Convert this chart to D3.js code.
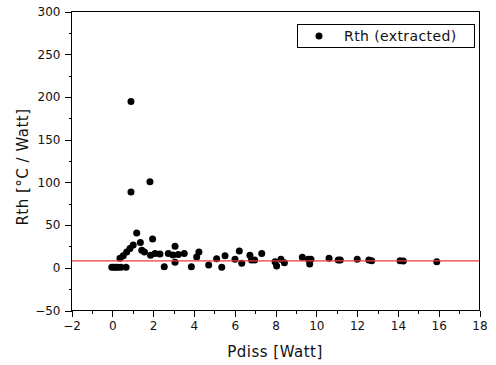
<!DOCTYPE html>
<html><head><meta charset="utf-8">
<script src="https://cdn.jsdelivr.net/npm/d3@7"></script>
<style>
html,body{margin:0;padding:0;background:#fff;}
svg{display:block;font-family:"DejaVu Sans",sans-serif;}
</style></head>
<body><svg id="c" width="496" height="365"></svg>
<script>
const pdiss = [0.0,0.1,0.2,0.3,0.45,0.7,0.4,0.56,0.73,0.89,1.05,0.94,0.94,1.87,1.22,1.4,2.0,1.47,1.6,1.9,2.12,2.36,2.57,2.77,3.0,3.1,3.26,3.1,3.55,3.9,4.16,4.27,4.75,5.14,5.55,5.39,6.04,6.25,6.37,6.77,6.85,7.0,7.35,8.0,8.08,8.29,8.46,9.34,9.63,9.7,9.76,10.65,11.1,11.2,12.03,12.6,12.74,14.13,14.29,15.93];
const rth   = [0,0,0,0,0,0,10.5,13.6,18,22,26,194,88,100,40,29,33,20,18,14,16,15.6,0.5,16,14.4,24.5,15,6,16,0.7,12,18,2.7,10,13.6,0,9.5,19,4.7,14,8.5,8.5,16,6.6,1.5,9.4,5.4,11.7,9.4,3.9,9.4,10.5,8.5,8.5,9.4,8.5,7.7,7.7,7.4,6.6];
const refLine = 7.5;
const xTicks = [-2,0,2,4,6,8,10,12,14,16,18];
const yTicks = [-50,0,50,100,150,200,250,300];
const legendLabel = "Rth (extracted)";
const xTitle = "Pdiss [Watt]";
const yTitle = "Rth [°C / Watt]";

const L=71,R=479,T=11,B=310;
const svg=d3.select("#c");
const x=d3.scaleLinear().domain([-2,18]).range([L,R]);
const y=d3.scaleLinear().domain([-50,300]).range([B,T]);

// frame
svg.append("rect").attr("x",L+0.5).attr("y",T+0.5).attr("width",R-L).attr("height",B-T)
  .attr("fill","none").attr("stroke","#000").attr("stroke-width",1).attr("shape-rendering","crispEdges");

// axes
const xMinor=d3.range(-1,18,2);
const yMinor=d3.range(-25,300,50);
const gx=svg.append("g").attr("transform",`translate(0.5,${B+0.5})`);
gx.call(d3.axisBottom(x).tickValues(xTicks).tickSize(6).tickPadding(5).tickFormat(d3.format("d")));
gx.append("g").call(d3.axisBottom(x).tickValues(xMinor).tickSize(3).tickFormat(""));
const gy=svg.append("g").attr("transform",`translate(${L+0.5},0.5)`);
gy.call(d3.axisLeft(y).tickValues(yTicks).tickSize(7).tickPadding(4).tickFormat(d3.format("d")));
gy.append("g").call(d3.axisLeft(y).tickValues(yMinor).tickSize(3).tickFormat(""));
svg.selectAll(".domain").remove();
svg.selectAll(".tick line").attr("stroke","#000").attr("shape-rendering","crispEdges");
svg.selectAll(".tick text").attr("font-size","12px").attr("font-family","DejaVu Sans").attr("fill","#111");

// points
svg.append("g").selectAll("circle").data(pdiss.map((d,i)=>[d,rth[i]])).join("circle")
  .attr("cx",d=>x(d[0])).attr("cy",d=>y(d[1])).attr("r",3.5).attr("fill","#000");

// reference line (on top)
const ry=y(refLine);
svg.append("line").attr("x1",L+1).attr("x2",R).attr("y1",ry).attr("y2",ry)
  .attr("stroke","#ec3a3c").attr("stroke-width",1.3);

// titles
svg.append("text").attr("x",(L+R)/2).attr("y",357).attr("text-anchor","middle")
  .attr("font-size","15px").attr("letter-spacing","0.5px").attr("fill","#111").text(xTitle);
svg.append("text").attr("transform","translate(28,167) rotate(-90)").attr("text-anchor","middle")
  .attr("font-size","15px").attr("letter-spacing","0.5px").attr("fill","#111").text(yTitle);

// legend
svg.append("rect").attr("x",297.5).attr("y",24.5).attr("width",177).attr("height",23)
  .attr("fill","#fff").attr("stroke","#000").attr("shape-rendering","crispEdges");
svg.append("circle").attr("cx",319).attr("cy",36).attr("r",3.5).attr("fill","#000");
svg.append("text").attr("x",344).attr("y",41).attr("font-size","14px").attr("letter-spacing","0.4px")
  .attr("fill","#111").text(legendLabel);
</script></body></html>
